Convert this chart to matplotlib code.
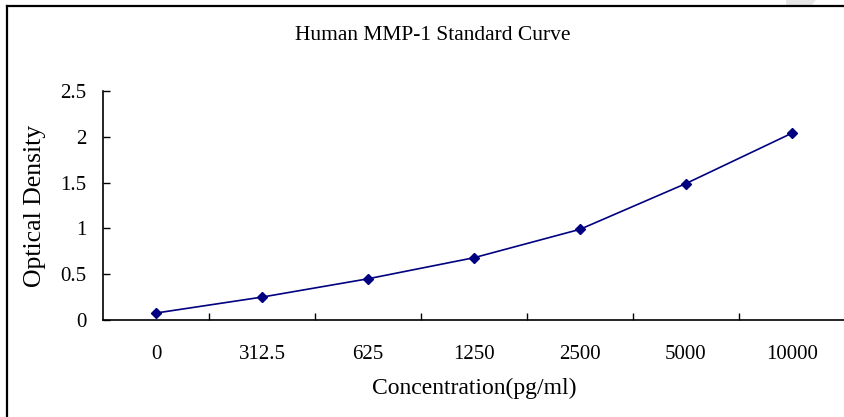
import matplotlib.pyplot as plt
from matplotlib.lines import Line2D
from matplotlib.patches import Polygon

# Standard curve data
concentrations = ['0', '312.5', '625', '1250', '2500', '5000', '10000']
optical_density = [0.076, 0.25, 0.45, 0.68, 0.99, 1.49, 2.04]
y_ticks = [0, 0.5, 1, 1.5, 2, 2.5]
y_tick_labels = ['0', '0.5', '1', '1.5', '2', '2.5']

plt.rcParams['font.family'] = ['Liberation Serif', 'DejaVu Serif']

W, H = 845, 417
fig = plt.figure(figsize=(W / 100, H / 100), dpi=100)

# axes placed to match the reference pixels
ax = fig.add_axes([103 / W, (H - 320) / H, (W - 103) / W, (320 - 91) / H])

x = list(range(len(concentrations)))
ax.plot(x, optical_density, color='#000080', lw=1.2, marker='D', ms=5,
        mfc='#000080', mec='#000080')

ax.set_xlim(-0.5, len(concentrations) - 0.5)
ax.set_ylim(0, 2.5)
ax.set_yticks(y_ticks)
ax.set_yticklabels(y_tick_labels)
ax.set_xticks(x)
ax.set_xticklabels(concentrations)
ax.set_xticks([i + 0.5 for i in x[:-1]], minor=True)

ax.tick_params(axis='x', which='major', length=0, pad=18, labelsize=15)
ax.tick_params(axis='x', which='minor', direction='in', length=5, width=1)
ax.tick_params(axis='y', direction='in', length=5, width=1, pad=12, labelsize=15)

for s in ['top', 'right']:
    ax.spines[s].set_visible(False)
for s in ['left', 'bottom']:
    ax.spines[s].set_linewidth(1.2)

ax.set_xlabel('Concentration(pg/ml)', fontsize=17, labelpad=10)
ax.set_ylabel('Optical Density', fontsize=18.5, labelpad=10)

fig.text(433 / W, 1 - 36 / H, 'Human MMP-1 Standard Curve', fontsize=15.5,
         ha='center', va='center')

# outer frame (left and top edges visible)
fig.add_artist(Line2D([7 / W, 7 / W], [0, 1 - 6 / H], transform=fig.transFigure,
                      color='black', lw=1.6))
fig.add_artist(Line2D([7 / W, 1], [1 - 6 / H, 1 - 6 / H], transform=fig.transFigure,
                      color='black', lw=1.6))
fig.add_artist(Polygon([(786 / W, 1), (816 / W, 1), (812 / W, 1 - 5 / H), (786 / W, 1 - 5 / H)],
                       closed=True, transform=fig.transFigure, color='#e6e6e6', lw=0))

fig.savefig('out.png', dpi=100)
